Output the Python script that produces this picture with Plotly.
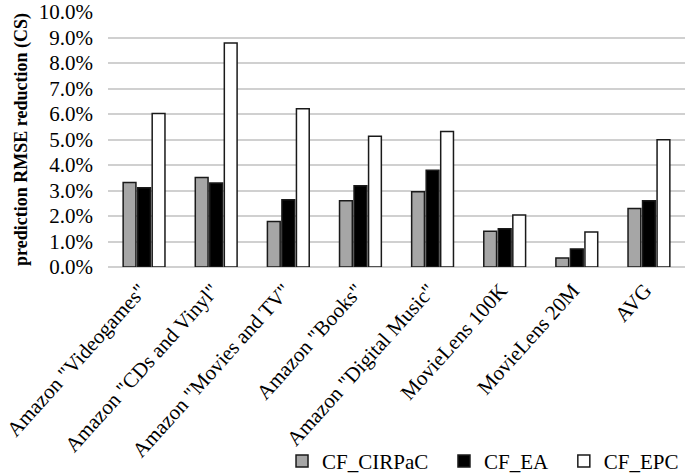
import plotly.graph_objects as go

categories = ['Amazon "Videogames"', 'Amazon "CDs and Vinyl"', 'Amazon "Movies and TV"',
              'Amazon "Books"', 'Amazon "Digital Music"', 'MovieLens 100K', 'MovieLens 20M', 'AVG']
cf_cirpac = [3.31, 3.51, 1.78, 2.60, 2.95, 1.40, 0.35, 2.29]
cf_ea = [3.11, 3.29, 2.64, 3.19, 3.79, 1.50, 0.71, 2.60]
cf_epc = [6.02, 8.78, 6.21, 5.13, 5.31, 2.04, 1.37, 4.99]

series = [("CF_CIRPaC", cf_cirpac, "#a6a6a6", "legend"),
          ("CF_EA", cf_ea, "#000000", "legend2"),
          ("CF_EPC", cf_epc, "#ffffff", "legend3")]

fig = go.Figure()
for name, vals, col, lg in series:
    fig.add_trace(go.Bar(x=categories, y=vals, name=name, legend=lg,
                         marker=dict(color=col, line=dict(color="#1a1a1a", width=1.5))))

font = "Liberation Serif, Times New Roman, serif"
legend_common = dict(orientation="h", xanchor="left", y=-0.762, yanchor="middle",
                     font=dict(size=21, family=font), bgcolor="rgba(0,0,0,0)")
fig.update_layout(
    width=685, height=473,
    margin=dict(l=108, r=0, t=12, b=206, autoexpand=False),
    paper_bgcolor="white", plot_bgcolor="white",
    barmode="group", bargap=0.396, bargroupgap=0.12,
    font=dict(family=font, size=21, color="#000"),
    xaxis=dict(tickangle=-48, showgrid=False, ticks="", tickfont=dict(size=21),
               ticklabelshift=-4, ticklabelstandoff=6, automargin=False),
    yaxis=dict(range=[0, 10], dtick=1, tickformat=".1f", ticksuffix="%",
               showgrid=True, gridcolor="#d0d0d0", gridwidth=1.5,
               zeroline=True, zerolinecolor="#d0d0d0", zerolinewidth=1.5,
               tickfont=dict(size=21), ticklabelstandoff=14, automargin=False,
               title=dict(text="<b>prediction RMSE reduction (CS)</b>", font=dict(size=18), standoff=6)),
    legend=dict(x=0.3016, **legend_common),
    legend2=dict(x=0.5823, **legend_common),
    legend3=dict(x=0.790, **legend_common),
    showlegend=True,
)
fig.write_html("out.html", config={"displayModeBar": False},
               post_script="document.body.style.margin='0';document.body.style.overflow='hidden';")
